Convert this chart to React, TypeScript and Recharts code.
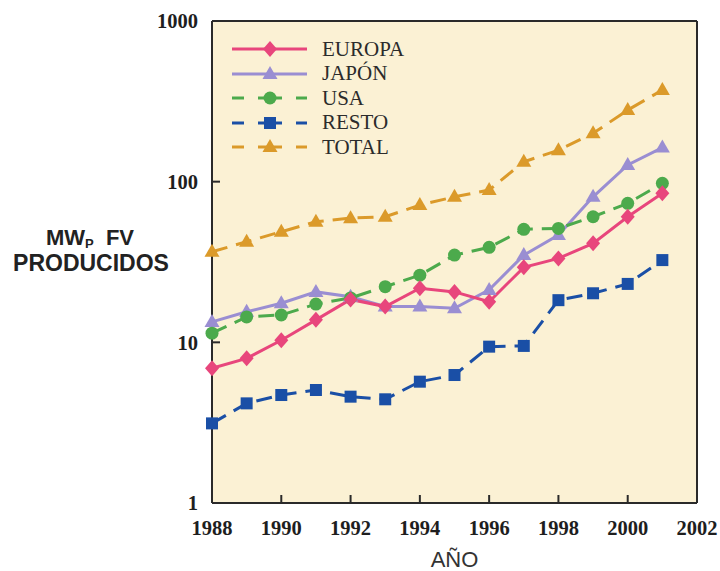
import { CartesianGrid, Label, Legend, Line, LineChart, XAxis, YAxis } from 'recharts';

const years = [1988, 1989, 1990, 1991, 1992, 1993, 1994, 1995, 1996, 1997, 1998, 1999, 2000, 2001];
const europa = [6.9, 7.95, 10.3, 13.8, 18.5, 16.7, 21.7, 20.6, 17.9, 29.3, 33.3, 41.3, 60.5, 84.6];
const japon = [13.4, 15.5, 17.5, 20.6, 19.2, 16.7, 16.7, 16.3, 21.2, 34.9, 46.5, 80.5, 127, 163];
const usa = [11.4, 14.4, 14.8, 17.3, 18.9, 22.2, 26.2, 34.9, 39.0, 50.5, 51.2, 60.5, 73.3, 97.6];
const resto = [3.13, 4.17, 4.7, 5.05, 4.59, 4.42, 5.69, 6.26, 9.4, 9.5, 18.3, 20.2, 23.1, 32.5];
const total = [36.6, 42.3, 48.8, 56.3, 59.3, 60.5, 71.5, 80.5, 88.7, 133, 157, 200, 279, 372];

const xTicks = [1988, 1990, 1992, 1994, 1996, 1998, 2000, 2002];
const yTicks = [1, 10, 100, 1000];

const data = years.map((year, i) => ({
  year,
  europa: europa[i],
  japon: japon[i],
  usa: usa[i],
  resto: resto[i],
  total: total[i],
}));

const C_EU = '#E8467C';
const C_JP = '#9A8ED2';
const C_US = '#4CAA4C';
const C_RE = '#1A4FA6';
const C_TO = '#DB9A2A';

type Shape = 'diamond' | 'triangle' | 'circle' | 'square';

const Marker = ({ cx, cy, fill, shape }: { cx: number; cy: number; fill: string; shape: Shape }) => {
  if (shape === 'diamond')
    return <path d={`M${cx},${cy - 8}L${cx + 7},${cy}L${cx},${cy + 8}L${cx - 7},${cy}Z`} fill={fill} />;
  if (shape === 'triangle')
    return <path d={`M${cx},${cy - 8}L${cx + 7.5},${cy + 5}L${cx - 7.5},${cy + 5}Z`} fill={fill} />;
  if (shape === 'circle') return <circle cx={cx} cy={cy} r={6.5} fill={fill} />;
  return <rect x={cx - 6} y={cy - 6} width={12} height={12} fill={fill} />;
};

const dotFor = (fill: string, shape: Shape) => (p: any) =>
  <Marker key={p.index} cx={p.cx} cy={p.cy} fill={fill} shape={shape} />;

const legendRows: { name: string; color: string; shape: Shape; dashed: boolean }[] = [
  { name: 'EUROPA', color: C_EU, shape: 'diamond', dashed: false },
  { name: 'JAPÓN', color: C_JP, shape: 'triangle', dashed: false },
  { name: 'USA', color: C_US, shape: 'circle', dashed: true },
  { name: 'RESTO', color: C_RE, shape: 'square', dashed: true },
  { name: 'TOTAL', color: C_TO, shape: 'triangle', dashed: true },
];

const renderLegend = () => (
  <div>
    {legendRows.map((r) => (
      <div key={r.name} style={{ display: 'flex', alignItems: 'center', height: 24.5 }}>
        <svg width={90} height={24}>
          {r.dashed ? (
            <g stroke={r.color} strokeWidth={3}>
              <line x1={6} y1={12} x2={18} y2={12} />
              <line x1={32} y1={12} x2={56} y2={12} />
              <line x1={70} y1={12} x2={81} y2={12} />
            </g>
          ) : (
            <line x1={6} y1={12} x2={81} y2={12} stroke={r.color} strokeWidth={3} />
          )}
          <Marker cx={44} cy={12} fill={r.color} shape={r.shape} />
        </svg>
        <span style={{ fontFamily: '"Liberation Serif", serif', fontSize: 21, color: '#2b2b2b', marginLeft: 6 }}>
          {r.name}
        </span>
      </div>
    ))}
  </div>
);

const YTitle = () => (
  <text fontFamily='"Liberation Sans", Arial, sans-serif' fontWeight="bold" fill="#222" textAnchor="middle">
    <tspan x={90} y={245} fontSize={22}>
      MW<tspan fontSize={13} dy={3}>P</tspan>
      <tspan dy={-3}>{'\u00a0\u00a0FV'}</tspan>
    </tspan>
    <tspan x={91} y={271} fontSize={23}>
      PRODUCIDOS
    </tspan>
  </text>
);

const tickFont = { fontFamily: '"Liberation Serif", serif', fontWeight: 'bold', fontSize: 20.5, fill: '#1e1e1e' };
const axisLine = { stroke: '#2a2a2a', strokeWidth: 2 };

export default function App() {
  return (
    <div style={{ position: 'absolute', left: 0, top: 0, width: 720, height: 571, background: '#fff' }}>
      <LineChart width={720} height={571} data={data} margin={{ top: 0, right: 0, bottom: 0, left: 0 }}>
        <CartesianGrid horizontal={false} vertical={false} fill="#FBF1D4" xAxisId="bottom" yAxisId="left" />
        <XAxis
          xAxisId="bottom"
          dataKey="year"
          type="number"
          domain={[1988, 2002]}
          ticks={xTicks}
          height={68}
          tickSize={-8}
          tickMargin={25}
          tick={tickFont}
          axisLine={axisLine}
          tickLine={axisLine}
        >
          <Label value="AÑO" position="insideBottom" offset={4} style={{ fontFamily: '"Liberation Sans", Arial, sans-serif', fontSize: 22, fill: '#333' }} />
        </XAxis>
        <XAxis
          xAxisId="top"
          orientation="top"
          dataKey="year"
          type="number"
          domain={[1988, 2002]}
          ticks={xTicks}
          height={21}
          tickSize={-8}
          tick={false}
          axisLine={axisLine}
          tickLine={axisLine}
        />
        <YAxis
          yAxisId="left"
          scale="log"
          domain={[1, 1000]}
          allowDataOverflow
          ticks={yTicks}
          width={212}
          tickSize={-8}
          tickMargin={22}
          tick={tickFont}
          axisLine={axisLine}
          tickLine={axisLine}
        >
          <Label content={<YTitle />} />
        </YAxis>
        <YAxis
          yAxisId="right"
          orientation="right"
          scale="log"
          domain={[1, 1000]}
          allowDataOverflow
          ticks={yTicks}
          width={23}
          tickSize={-8}
          tick={false}
          axisLine={axisLine}
          tickLine={axisLine}
        />
        <Legend
          content={renderLegend}
          layout="vertical"
          align="center"
          verticalAlign="middle"
          wrapperStyle={{ left: 226, top: 37, width: 220 }}
        />
        <Line xAxisId="bottom" yAxisId="left" dataKey="total" stroke={C_TO} strokeWidth={3} strokeDasharray="16 9" dot={dotFor(C_TO, 'triangle')} isAnimationActive={false} />
        <Line xAxisId="bottom" yAxisId="left" dataKey="resto" stroke={C_RE} strokeWidth={3} strokeDasharray="16 9" dot={dotFor(C_RE, 'square')} isAnimationActive={false} />
        <Line xAxisId="bottom" yAxisId="left" dataKey="japon" stroke={C_JP} strokeWidth={3} dot={dotFor(C_JP, 'triangle')} isAnimationActive={false} />
        <Line xAxisId="bottom" yAxisId="left" dataKey="usa" stroke={C_US} strokeWidth={3} strokeDasharray="16 9" dot={dotFor(C_US, 'circle')} isAnimationActive={false} />
        <Line xAxisId="bottom" yAxisId="left" dataKey="europa" stroke={C_EU} strokeWidth={3} dot={dotFor(C_EU, 'diamond')} isAnimationActive={false} />
      </LineChart>
    </div>
  );
}
